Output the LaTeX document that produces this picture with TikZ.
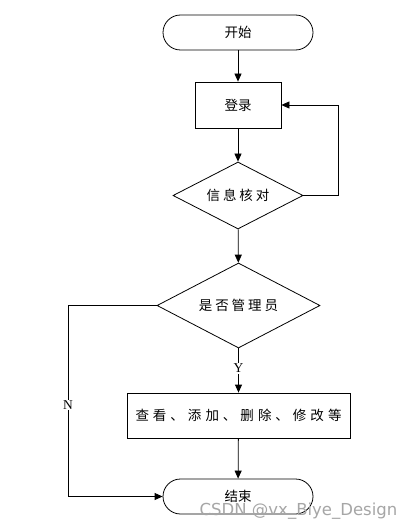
\documentclass[tikz,border=0pt]{standalone}
\usepackage{fontspec}
\setmainfont{Liberation Serif}
\newfontfamily\cjk{Noto Sans CJK SC}
\newfontfamily\wm{DejaVu Sans}
\usetikzlibrary{shapes.geometric,arrows.meta}
\begin{document}
\begin{tikzpicture}[x=1pt,y=-1pt,
  base/.style={draw=black,line width=0.8pt,font=\cjk\fontsize{13.5}{15}\selectfont,inner sep=0pt},
  term/.style={base,rectangle,rounded corners=17.5pt,minimum width=150pt,minimum height=35pt},
  proc/.style={base,rectangle},
  dec/.style={base,diamond,aspect=1.9},
  arr/.style={line width=0.8pt,-{Triangle[length=8pt,width=7pt]}},
  lab/.style={font=\fontsize{13.5}{15}\selectfont,fill=white,inner sep=1pt}]
\useasboundingbox[fill=white] (0,0) rectangle (416,532);
\node[term] (start) at (238,32.5) {开始};
\node[proc,minimum width=86pt,minimum height=46pt] (login) at (238,105) {登录};
\node[dec,minimum width=130pt,minimum height=67pt] (check) at (238,195.5) {信\hspace{3pt}息\hspace{3pt}核\hspace{3pt}对};
\node[dec,minimum width=163pt,minimum height=85pt] (admin) at (238.5,305.5) {是\hspace{3pt}否\hspace{3pt}管\hspace{3pt}理\hspace{3pt}员};
\node[proc,minimum width=223pt,minimum height=45pt] (ops) at (238.5,415.5) {查\hspace{4pt}看\hspace{4pt}、\hspace{4pt}添\hspace{4pt}加\hspace{4pt}、\hspace{4pt}删\hspace{4pt}除\hspace{4pt}、\hspace{4pt}修\hspace{4pt}改\hspace{4pt}等};
\node[term] (end) at (238,496.5) {结束};
\coordinate (r1) at (338,195.5);
\coordinate (r2) at (338,105);
\coordinate (l1) at (68,305.5);
\coordinate (l2) at (68,496.5);
\draw[arr] (start) -- (login);
\draw[arr] (login) -- (check);
\draw[arr] (check) -- (admin);
\draw[arr] (admin) -- (ops) node[lab,pos=0.45] (y) {Y};
\draw[arr] (ops) -- (end);
\draw[arr] (check.east) -- (r1) -- (r2) -- (login.east);
\draw[arr] (admin.west) -- (l1) -- (l2) -- (end.west);
\node[lab] (n) at (68,405) {N};
\node[font=\wm\fontsize{16.5}{18}\selectfont,text=gray!70,anchor=center] (wmk) at (298.5,511) {CSDN @vx\_Biye\_Design};
\end{tikzpicture}
\end{document}
